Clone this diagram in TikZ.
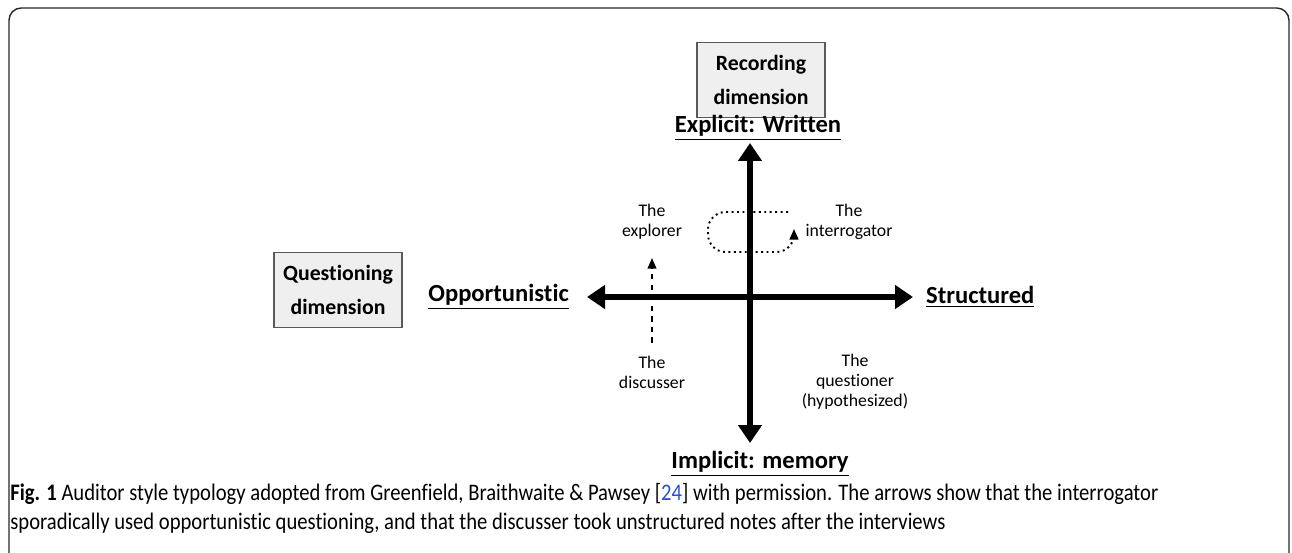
\documentclass[tikz,border=0pt]{standalone}
\usepackage{fontspec}
\setmainfont{Carlito}[Ligatures=NoCommon]
\newfontfamily\capfont{Carlito}[FakeStretch=0.87, Ligatures=NoCommon]
\usepackage{xcolor}
\usetikzlibrary{arrows.meta}
\definecolor{boxgray}{HTML}{EFEFEF}
\definecolor{linkblue}{HTML}{2A4FD6}

\begin{document}
\begin{tikzpicture}[x=0.02cm, y=-0.02cm,
    dimbox/.style={draw=black!65, fill=boxgray, line width=0.7pt, align=center,
      font=\fontsize{12.4}{19}\selectfont\bfseries,
      minimum width=2.56cm, minimum height=1.5cm},
    pole/.style={font=\fontsize{14}{17}\selectfont\bfseries},
    auditor/.style={align=center, font=\fontsize{10.1}{11.3}\selectfont},
    axis/.style={line width=3.4pt,
      {Triangle[width=0.46cm,length=0.36cm]}-{Triangle[width=0.46cm,length=0.36cm]}},
    notes/.style={dashed, line width=0.8pt, -{Triangle[width=5pt,length=6pt]}},
    asks/.style={dotted, line width=1.1pt, rounded corners=10pt,
      -{Triangle[width=5pt,length=6pt]}}]
    \useasboundingbox (0,0) rectangle (1292,553);

    % frame
    \draw[black!85, line width=0.8pt, rounded corners=7pt]
      (9,553) -- (9,8) -- (1289,8) -- (1289,553);

    % the two dimensions
    \node[dimbox] (rec) at (761,80) {Recording\\dimension};
    \node[dimbox] (que) at (338,290) {Questioning\\dimension};

    \node[pole] (written) at (758,128) {\underline{Explicit: Written}};
    \node[pole] (memory) at (760,464) {\underline{Implicit: memory}};
    \node[pole, anchor=east] (opp) at (575,297) {\underline{Opportunistic}};
    \node[pole, anchor=west] (struct) at (920,297) {\underline{Structured}};

    \coordinate (top) at (750,143);
    \coordinate (bot) at (750,443);
    \coordinate (lft) at (587,297);
    \coordinate (rgt) at (913,297);
    \draw[axis] (bot) -- (top);
    \draw[axis] (lft) -- (rgt);

    % auditor styles
    \node[auditor] (explorer) at (652,222) {The\\explorer};
    \node[auditor] (interrogator) at (849,222) {The\\interrogator};
    \node[auditor] (discusser) at (652,372) {The\\discusser};
    \node[auditor] (questioner) at (855,382) {The\\questioner\\(hypothesized)};

    \draw[notes] ([yshift=4pt]discusser.north) -- ([yshift=-7pt]explorer.south);

    \coordinate (ask0) at (788,212);
    \coordinate (ask1) at (794,229);
    \draw[asks] (ask0) -- (708,212) -- (708,252) -- (794,252) -- (ask1);

    % caption
    \node[anchor=north west, align=left, inner sep=0pt,
      font=\capfont\fontsize{13.5}{16.4}\selectfont] (caption) at (10,483)
      {\textbf{Fig. 1} Auditor style typology adopted from Greenfield, Braithwaite \& Pawsey [{\color{linkblue}24}] with permission. The arrows show that the interrogator\\
       sporadically used opportunistic questioning, and that the discusser took unstructured notes after the interviews};
  \end{tikzpicture}
\end{document}
